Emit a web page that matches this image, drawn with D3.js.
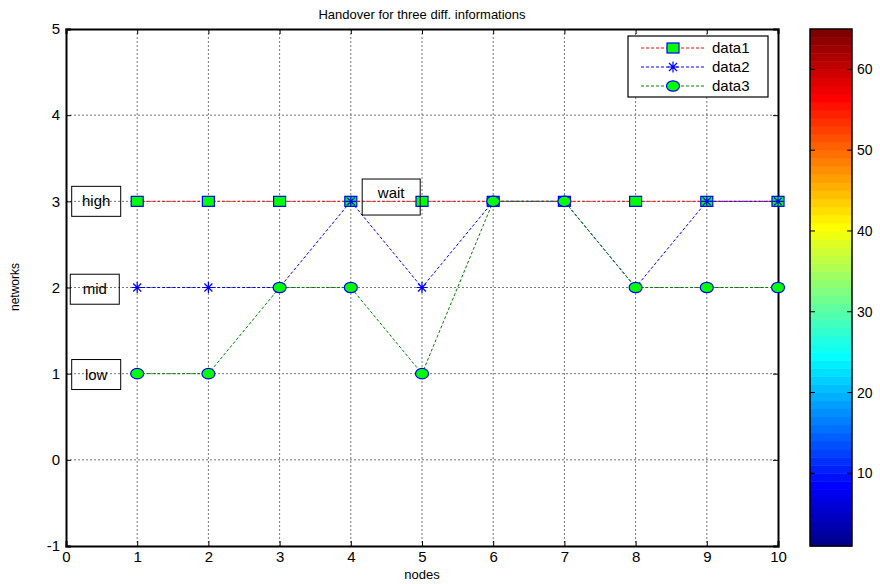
<!DOCTYPE html>
<html><head><meta charset="utf-8">
<script src="https://cdn.jsdelivr.net/npm/d3@7/dist/d3.min.js"></script>
<style>body{margin:0;background:#fff;}svg{display:block;font-family:"Liberation Sans",Arial,sans-serif;}</style>
</head><body>
<svg id="c" width="880" height="584"></svg>
<script>
const nodes = [1,2,3,4,5,6,7,8,9,10];
const data1 = [3,3,3,3,3,3,3,3,3,3];
const data2 = [2,2,2,3,2,3,3,2,3,3];
const data3 = [1,1,2,2,1,3,3,2,2,2];
const xTicks = [0,1,2,3,4,5,6,7,8,9,10];
const yTicks = [-1,0,1,2,3,4,5];
const cbTicks = [10,20,30,40,50,60];
const seriesNames = ["data1","data2","data3"];
const notes = [
  {text:"high", x:0.08, y:3.0},
  {text:"mid", x:0.06, y:1.98},
  {text:"low", x:0.08, y:0.99},
  {text:"wait", x:4.16, y:3.05}
];
const titleText = "Handover for three diff. informations";

const svg = d3.select("#c");
const L=66, R=778, T=29, B=546;
const x = d3.scaleLinear().domain([0,10]).range([L,R]);
const y = d3.scaleLinear().domain([-1,5]).range([B,T]);

// grid
const g = svg.append("g");
g.selectAll(".gx").data(xTicks.slice(1,-1)).join("line")
 .attr("x1",d=>x(d)).attr("x2",d=>x(d)).attr("y1",T).attr("y2",B)
 .attr("stroke","#777").attr("stroke-width",1).attr("stroke-dasharray","2,2");
g.selectAll(".gy").data(yTicks.slice(1,-1)).join("line")
 .attr("y1",d=>y(d)).attr("y2",d=>y(d)).attr("x1",L).attr("x2",R)
 .attr("stroke","#777").attr("stroke-width",1).attr("stroke-dasharray","2,2");

// axes
const fmt = d=>String(d);
const xa = svg.append("g").attr("transform",`translate(0,${B})`)
 .call(d3.axisBottom(x).tickValues(xTicks).tickSize(-5).tickPadding(8).tickFormat(fmt));
const xt = svg.append("g").attr("transform",`translate(0,${T})`)
 .call(d3.axisTop(x).tickValues(xTicks).tickSize(-5).tickFormat(""));
const ya = svg.append("g").attr("transform",`translate(${L},0)`)
 .call(d3.axisLeft(y).tickValues(yTicks).tickSize(-5).tickPadding(6).tickFormat(fmt));
const yr = svg.append("g").attr("transform",`translate(${R},0)`)
 .call(d3.axisRight(y).tickValues(yTicks).tickSize(-5).tickFormat(""));
[xa,xt,ya,yr].forEach(a=>{
  a.select(".domain").attr("stroke","#000").attr("stroke-width",2);
  a.selectAll(".tick line").attr("stroke","#000");
  a.selectAll("text").attr("font-size",15).attr("fill","#000").style("font-family","Liberation Sans, Arial, sans-serif");
});
xa.selectAll("text").attr("dy","0.5em");

// title & labels
svg.append("text").attr("x",422).attr("y",19).attr("text-anchor","middle").attr("font-size",13).text(titleText);
svg.append("text").attr("x",422).attr("y",579).attr("text-anchor","middle").attr("font-size",13).text("nodes");
svg.append("text").attr("transform","translate(19,287) rotate(-90)").attr("text-anchor","middle").attr("font-size",12).text("networks");

// series
const styles = [
  {color:"#ff0000", marker:"square"},
  {color:"#0000ff", marker:"star"},
  {color:"#008000", marker:"circle"}
];
const allData = [data1,data2,data3];
const line = d3.line().x(d=>x(d[0])).y(d=>y(d[1]));

function drawMarker(sel, type){
  if(type==="square"){
    sel.append("rect").attr("x",-6).attr("y",-5).attr("width",12).attr("height",10)
      .attr("fill","#00ff00").attr("stroke","#0000ff").attr("stroke-width",1.2);
  } else if(type==="circle"){
    sel.append("ellipse").attr("rx",6.5).attr("ry",5.2)
      .attr("fill","#00ff00").attr("stroke","#0000ff").attr("stroke-width",1.2);
  } else {
    const s=5.5, d=4;
    sel.append("path").attr("d",`M${-s},0L${s},0M0,${-s}L0,${s}M${-d},${-d}L${d},${d}M${-d},${d}L${d},${-d}`)
      .attr("stroke","#0000ff").attr("stroke-width",1.2).attr("fill","none");
  }
}

allData.forEach((vals,i)=>{
  const pts = nodes.map((n,j)=>[n,vals[j]]);
  svg.append("path").attr("d",line(pts)).attr("fill","none")
    .attr("stroke",styles[i].color).attr("stroke-width",1).attr("stroke-dasharray","3,2");
  pts.forEach(p=>{
    const m = svg.append("g").attr("transform",`translate(${x(p[0])},${y(p[1])})`);
    drawMarker(m, styles[i].marker);
  });
});

// annotation boxes (transparent)
notes.forEach(n=>{
  const isWait = n.text==="wait";
  const w = isWait?58:49, h = isWait?36:30;
  const x0 = x(n.x), yc = y(n.y);
  const gg = svg.append("g");
  gg.append("rect").attr("x",x0).attr("y",yc-h/2).attr("width",w).attr("height",h)
    .attr("fill","none").attr("stroke","#000").attr("stroke-width",1);
  gg.append("text").attr("x",x0+w/2).attr("y",isWait? yc-h/2+19 : yc+5)
    .attr("text-anchor","middle").attr("font-size",15).text(n.text);
});

// legend
const lg = svg.append("g");
lg.append("rect").attr("x",628).attr("y",36).attr("width",140).attr("height",61)
  .attr("fill","#fff").attr("stroke","#000").attr("stroke-width",1.2);
seriesNames.forEach((nm,i)=>{
  const yy = 48+i*19;
  lg.append("line").attr("x1",641).attr("x2",705).attr("y1",yy).attr("y2",yy)
    .attr("stroke",styles[i].color).attr("stroke-dasharray","3,2");
  const m = lg.append("g").attr("transform",`translate(673,${yy})`);
  drawMarker(m, styles[i].marker);
  lg.append("text").attr("x",712).attr("y",yy+5).attr("font-size",15).text(nm);
});

// colorbar
function jet(k){ // k: 1..64, MATLAB jet(64)
  const u = j => (j<1||j>47)?0:(j<=16? j/16 : (j<=31?1:(48-j)/16));
  return d3.rgb(255*u(k-24), 255*u(k-8), 255*u(k+8));
}
const cx0=810, cx1=852;
const cy = d3.scaleLinear().domain([1,65]).range([B,T]);
const levels = d3.range(1,65);
svg.append("g").selectAll("rect").data(levels).join("rect")
  .attr("x",cx0).attr("width",cx1-cx0)
  .attr("y",d=>cy(d+1)).attr("height",d=>cy(d)-cy(d+1)+0.5)
  .attr("fill",d=>jet(d));
svg.append("rect").attr("x",cx0).attr("y",T).attr("width",cx1-cx0).attr("height",B-T)
  .attr("fill","none").attr("stroke","#000").attr("stroke-width",1.5);
cbTicks.forEach(t=>{
  svg.append("line").attr("x1",cx0).attr("x2",cx0+5).attr("y1",cy(t)).attr("y2",cy(t)).attr("stroke","#000");
  svg.append("line").attr("x1",cx1-5).attr("x2",cx1).attr("y1",cy(t)).attr("y2",cy(t)).attr("stroke","#000");
  svg.append("text").attr("x",857).attr("y",cy(t)+5).attr("font-size",14).text(t);
});
</script>
</body></html>
